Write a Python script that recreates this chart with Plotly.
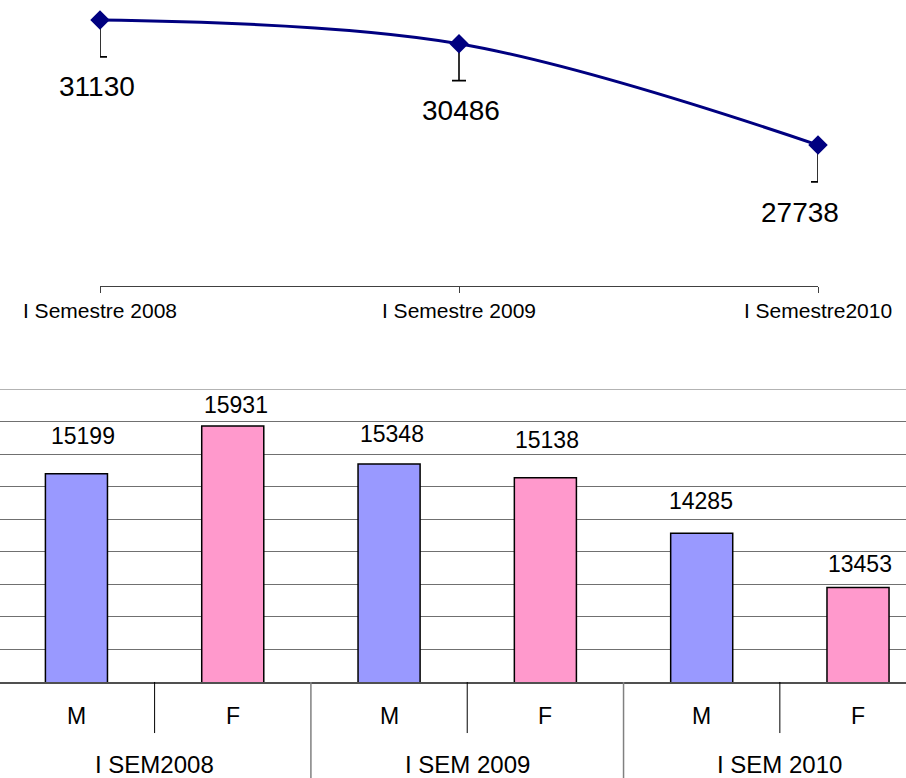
import plotly.graph_objects as go

# ---- data ----
semesters = ["I Semestre 2008", "I Semestre 2009", "I Semestre2010"]
totals = [31130, 30486, 27738]
total_err_minus = [1000, 1000, 1000]

sex_labels = ["M", "F", "M", "F", "M", "F"]
group_labels = ["I SEM2008", "I SEM 2009", "I SEM 2010"]
by_sex = [15199, 15931, 15348, 15138, 14285, 13453]
y_top = 16500

# ---- style ----
FONT = "Liberation Sans, Arial, sans-serif"
NAVY = "#000080"
BAR_COLORS = ["#9999FF", "#FF99CC"] * 3
total_label_xshift = [-3, 2, -18]
bar_label_offset = [38, 21, 30, 38, 32, 23]
bar_label_xshift = [7, 3, 3, 2, -1, 2]

fig = go.Figure()

# Totals line (top panel)
xs_line = list(range(len(semesters)))
fig.add_trace(go.Scatter(
    x=xs_line, y=totals, mode="lines+markers",
    line=dict(color=NAVY, width=3, shape="spline", smoothing=1),
    marker=dict(symbol="diamond", size=15, color=NAVY),
    error_y=dict(type="data", symmetric=False,
                 array=[0] * len(totals), arrayminus=total_err_minus,
                 color="black", thickness=1.6, width=7),
    cliponaxis=False, xaxis="x", yaxis="y", showlegend=False,
))

for i, v in enumerate(totals):
    fig.add_annotation(x=xs_line[i], y=v, xref="x", yref="y",
                       text=str(v), showarrow=False, yshift=-67,
                       xshift=total_label_xshift[i],
                       font=dict(family=FONT, size=28, color="black"))

# Bars by sex (bottom panel)
xs_bar = list(range(len(by_sex)))
fig.add_trace(go.Bar(
    x=xs_bar, y=by_sex, width=0.397,
    marker=dict(color=BAR_COLORS, line=dict(color="black", width=1.5)),
    xaxis="x2", yaxis="y2", showlegend=False,
))

for i, v in enumerate(by_sex):
    fig.add_annotation(x=xs_bar[i], y=v, xref="x2", yref="y2",
                       text=str(v), showarrow=False,
                       yshift=bar_label_offset[i], yanchor="middle",
                       xshift=bar_label_xshift[i],
                       font=dict(family=FONT, size=23, color="black"))

# category labels under bars
for i, s in enumerate(sex_labels):
    fig.add_annotation(x=xs_bar[i], y=0.0797, xref="x2", yref="paper",
                       text=s, showarrow=False, yanchor="middle",
                       font=dict(family=FONT, size=23, color="black"))
for g, name in enumerate(group_labels):
    fig.add_annotation(x=2 * g + 0.5, y=0.0174, xref="x2", yref="paper",
                       text=name, showarrow=False, yanchor="middle",
                       font=dict(family=FONT, size=24, color="black"))

# dividers between categories and groups, plus top border of the bar area
shapes = [dict(type="line", xref="paper", yref="y2", x0=0, x1=1,
               y0=y_top, y1=y_top, line=dict(color="#9a9a9a", width=1.5))]
for g in range(len(group_labels)):
    xm = 2 * g + 0.5
    shapes.append(dict(type="line", xref="x2", yref="paper",
                       x0=xm, x1=xm, y0=0.1234, y1=0.0578,
                       line=dict(color="black", width=1)))
for g in range(1, len(group_labels)):
    xg = 2 * g - 0.5
    shapes.append(dict(type="line", xref="x2", yref="paper",
                       x0=xg, x1=xg, y0=0.1234, y1=0.0,
                       line=dict(color="#808080", width=1.5)))

fig.update_layout(
    width=906, height=778,
    margin=dict(l=0, r=0, t=0, b=0, pad=0, autoexpand=False),
    paper_bgcolor="white", plot_bgcolor="white",
    font=dict(family=FONT, color="black"),
    shapes=shapes,
    xaxis=dict(domain=[100 / 906, 818 / 906], range=[0, 2],
               tickvals=xs_line, ticktext=semesters, automargin=False,
               showline=True, linecolor="#404040", linewidth=1,
               ticks="outside", ticklen=6, tickcolor="#404040",
               showgrid=False, zeroline=False,
               tickfont=dict(family=FONT, size=21, color="black")),
    yaxis=dict(domain=[0.6324, 0.9923], range=[23912, 31510],
               visible=False, automargin=False),
    xaxis2=dict(domain=[0, 1], range=[-0.489, 5.307], anchor="y2",
                showticklabels=False, ticks="", showgrid=False,
                showline=True, linecolor="#505050", linewidth=1.5,
                zeroline=False, automargin=False),
    yaxis2=dict(domain=[0.1234, 0.5], range=[12000, y_top], anchor="x2",
                dtick=500, showticklabels=False, ticks="",
                showgrid=True, gridcolor="#707070", gridwidth=1,
                zeroline=False, showline=False, automargin=False),
)

fig.write_html("out.html")
